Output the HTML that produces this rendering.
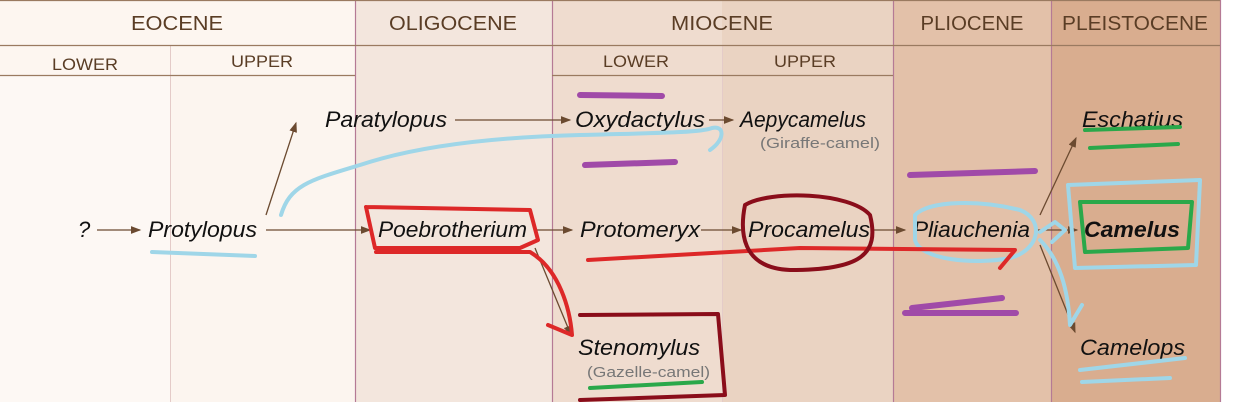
<!DOCTYPE html><html><head><style>body{margin:0;background:#fff}svg{display:block}</style></head><body>
<svg width="1234" height="402" xmlns="http://www.w3.org/2000/svg" font-family="Liberation Sans, DejaVu Sans, sans-serif">
<defs><marker id="a" markerWidth="8" markerHeight="6" refX="7" refY="3" orient="auto"><path d="M0,0L8,3L0,6z" fill="#6b4a30"/></marker></defs>
<rect x="0" y="0" width="170" height="402" fill="#fdf8f4"/>
<rect x="170" y="0" width="185" height="402" fill="#fcf5ef"/>
<rect x="0" y="0" width="355" height="75" fill="#fdf6f0"/>
<rect x="355" y="0" width="197" height="402" fill="#f3e6dd"/>
<rect x="552" y="0" width="170" height="402" fill="#efdccf"/>
<rect x="722" y="0" width="171" height="402" fill="#ead3c2"/>
<rect x="893" y="0" width="158" height="402" fill="#e3c1a9"/>
<rect x="1051" y="0" width="169" height="402" fill="#d9ad8f"/>
<g stroke="#b57a95" stroke-width="1.2"><line x1="355.5" y1="0" x2="355.5" y2="402"/><line x1="552.5" y1="0" x2="552.5" y2="402"/><line x1="893.5" y1="0" x2="893.5" y2="402"/><line x1="1051.5" y1="0" x2="1051.5" y2="402"/><line x1="1220.5" y1="0" x2="1220.5" y2="402"/></g>
<g stroke="#e4cbc8" stroke-width="1"><line x1="170.5" y1="45" x2="170.5" y2="402"/><line x1="722.5" y1="45" x2="722.5" y2="402"/></g>
<g stroke="#9a7a60" stroke-width="1.2"><line x1="0" y1="45.5" x2="1220" y2="45.5"/><line x1="0" y1="75.5" x2="355" y2="75.5"/><line x1="552" y1="75.5" x2="893" y2="75.5"/><line x1="0" y1="0.5" x2="1220" y2="0.5"/></g>
<g fill="#5a3d25" font-size="20" text-anchor="middle" lengthAdjust="spacingAndGlyphs"><text x="177" y="30" textLength="92" lengthAdjust="spacingAndGlyphs">EOCENE</text><text x="453" y="30" textLength="128" lengthAdjust="spacingAndGlyphs">OLIGOCENE</text><text x="722" y="30" textLength="102" lengthAdjust="spacingAndGlyphs">MIOCENE</text><text x="972" y="30" textLength="103" lengthAdjust="spacingAndGlyphs">PLIOCENE</text><text x="1135" y="30" textLength="146" lengthAdjust="spacingAndGlyphs">PLEISTOCENE</text></g>
<g fill="#5a3d25" font-size="17" text-anchor="middle"><text x="85" y="70" textLength="66" lengthAdjust="spacingAndGlyphs">LOWER</text><text x="262" y="67" textLength="62" lengthAdjust="spacingAndGlyphs">UPPER</text><text x="636" y="67" textLength="66" lengthAdjust="spacingAndGlyphs">LOWER</text><text x="805" y="67" textLength="62" lengthAdjust="spacingAndGlyphs">UPPER</text></g>
<g stroke="#6b4a30" stroke-width="1.3" fill="none" marker-end="url(#a)">
<line x1="97" y1="230" x2="140" y2="230"/><line x1="266" y1="230" x2="370" y2="230"/><line x1="266" y1="215" x2="296" y2="123"/>
<line x1="455" y1="120" x2="570" y2="120"/><line x1="709" y1="120" x2="733" y2="120"/>
<line x1="536" y1="230" x2="572" y2="230"/><line x1="701" y1="230" x2="741" y2="230"/><line x1="872" y1="230" x2="905" y2="230"/>
<line x1="1036" y1="230" x2="1077" y2="230"/><line x1="1040" y1="215" x2="1076" y2="138"/><line x1="1040" y1="245" x2="1075" y2="332"/>
<line x1="535" y1="248" x2="571" y2="335"/></g>
<g font-size="22" font-style="italic" fill="#111">
<text x="78" y="237">?</text><text x="148" y="237" textLength="109" lengthAdjust="spacingAndGlyphs">Protylopus</text><text x="325" y="127" textLength="122" lengthAdjust="spacingAndGlyphs">Paratylopus</text><text x="575" y="127" textLength="130" lengthAdjust="spacingAndGlyphs">Oxydactylus</text><text x="740" y="127" textLength="126" lengthAdjust="spacingAndGlyphs">Aepycamelus</text>
<text x="378" y="237" textLength="149" lengthAdjust="spacingAndGlyphs">Poebrotherium</text><text x="580" y="237" textLength="120" lengthAdjust="spacingAndGlyphs">Protomeryx</text><text x="748" y="237" textLength="122" lengthAdjust="spacingAndGlyphs">Procamelus</text><text x="913" y="237" textLength="117" lengthAdjust="spacingAndGlyphs">Pliauchenia</text>
<text x="1084" y="237" font-weight="bold" textLength="96" lengthAdjust="spacingAndGlyphs">Camelus</text><text x="1082" y="127" textLength="101" lengthAdjust="spacingAndGlyphs">Eschatius</text><text x="1080" y="355" textLength="105" lengthAdjust="spacingAndGlyphs">Camelops</text><text x="578" y="355" textLength="122" lengthAdjust="spacingAndGlyphs">Stenomylus</text></g>
<g font-size="15" fill="#777"><text x="760" y="148" textLength="120" lengthAdjust="spacingAndGlyphs">(Giraffe-camel)</text><text x="587" y="377" textLength="123" lengthAdjust="spacingAndGlyphs">(Gazelle-camel)</text></g>
<g fill="none" stroke-linecap="round" stroke-linejoin="round">
<g stroke="#a04aa8" stroke-width="6"><path d="M580 95L662 96"/><path d="M585 165L675 162"/><path d="M910 175L1035 171"/><path d="M912 308L1002 298M905 313L1016 313"/></g>
<g stroke="#9fd6e8" stroke-width="4"><path d="M152 252L255 256"/><path d="M281 215C290 185 310 180 360 165C420 145 500 137 580 135C650 133 700 133 712 128C725 125 725 140 710 150"/>
<path d="M915 215C930 200 980 200 1020 210C1045 220 1040 250 1010 258C975 265 920 260 915 240Z"/><path d="M1040 232L1055 222L1065 230L1052 242"/>
<path d="M1040 240C1060 260 1068 290 1070 325L1082 305"/>
<path d="M1068 185L1200 180L1196 265L1075 268Z"/><path d="M1080 370L1185 358M1082 382L1170 378"/></g>
<g stroke="#2aa84a" stroke-width="4"><path d="M1085 130L1180 127M1090 148L1178 144"/><path d="M1080 202L1192 202L1188 248L1085 252Z"/><path d="M590 388L702 382"/></g>
<g stroke="#dd2828" stroke-width="4"><path d="M366 207L530 210L538 240L520 248L375 248L366 207"/><path d="M376 252L530 252C560 270 570 310 572 335L548 325"/><path d="M588 260L800 248L1015 250L1000 268"/></g>
<g stroke="#8a0d1a" stroke-width="4"><path d="M745 205C770 190 850 192 870 215C880 255 860 270 790 270C740 268 740 230 745 205Z"/><path d="M580 315L718 314L725 395L580 400"/></g>
</g>
</svg></body></html>
